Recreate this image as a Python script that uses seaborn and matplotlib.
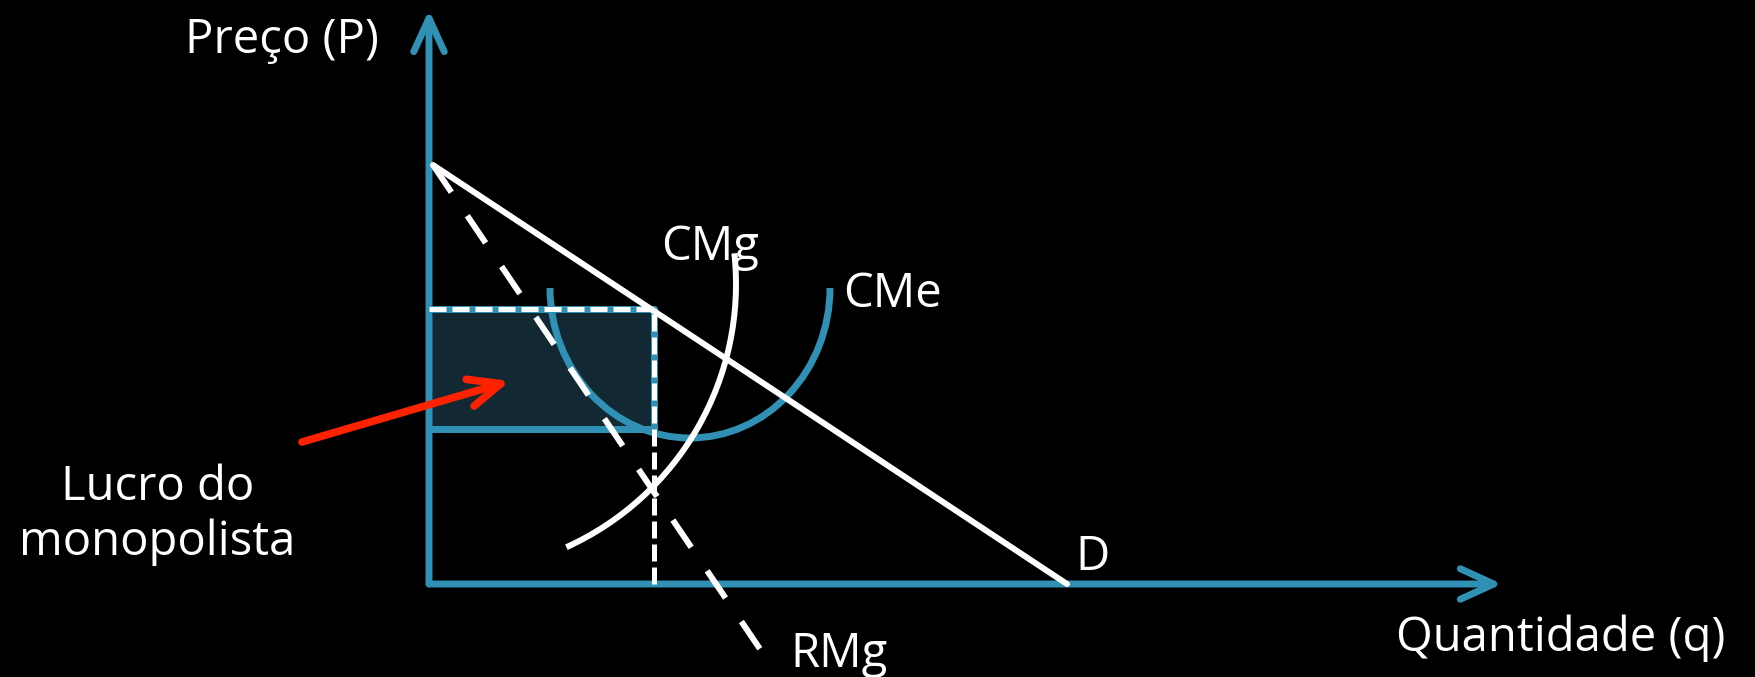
import matplotlib.pyplot as plt
import matplotlib.patches as mpatches
import seaborn as sns

# diagram coordinates: quantity q (horizontal) and price P (vertical), origin at the axes corner
q_axis_end = 107.3
p_axis_end = 57.4

# demand (D) and marginal revenue (RMg) end points
demand_q = [0.4, 63.8]
demand_p = [41.9, 0.0]
rmg_q = [0.4, 33.3]
rmg_p = [41.9, -6.8]

# monopoly quantity, price and average cost at that quantity
q_monopoly = 22.5
p_monopoly = 27.5
cme_at_qm = 15.5

# CMe: U shaped half ellipse (centre, width, height)
cme_center = (26.1, 29.6)
cme_size = (28.0, 30.0)

# CMg: circular arc (centre, radius, start / end angle in degrees)
cmg_center = (1.8, 30.0)
cmg_radius = 28.9
cmg_angles = (-65.6, 6.1)

# red arrow pointing at the profit area
arrow_q = [-12.7, 8.1]
arrow_p = [14.2, 20.3]

blue = '#3191b4'
fill = '#122832'
red = '#ff2200'

sns.set_style('dark', {'axes.facecolor': 'black', 'figure.facecolor': 'black'})
plt.rcParams['font.family'] = ['Open Sans', 'DejaVu Sans']

fig = plt.figure(figsize=(17.55, 6.77), dpi=100)
ax = fig.add_axes([0, 0, 1, 1])
ax.set_xlim(-42.9, 132.6)
ax.set_ylim(-9.3, 58.4)
ax.axis('off')

# profit rectangle
ax.fill_between([0, q_monopoly], cme_at_qm, p_monopoly, color=fill, lw=0, zorder=1)
ax.plot([0, q_monopoly], [p_monopoly, p_monopoly], color=blue, lw=5, zorder=2)
ax.plot([0, q_monopoly], [cme_at_qm, cme_at_qm], color=blue, lw=5, zorder=2, solid_capstyle='butt')
ax.plot([q_monopoly, q_monopoly], [cme_at_qm, p_monopoly], color=blue, lw=5, zorder=2)

# axes with open arrow heads
for end in [(0, p_axis_end), (q_axis_end, 0)]:
    arr = mpatches.FancyArrowPatch((0, 0), end, arrowstyle='->,head_length=24,head_width=11',
                                   mutation_scale=1, color=blue, lw=5, shrinkA=0, shrinkB=0,
                                   capstyle='round', joinstyle='round', zorder=2)
    ax.add_patch(arr)

# CMe
ax.add_patch(mpatches.Arc(cme_center, cme_size[0], cme_size[1], theta1=180, theta2=360,
                          color=blue, lw=5, zorder=3))

# CMg
ax.add_patch(mpatches.Arc(cmg_center, 2 * cmg_radius, 2 * cmg_radius,
                          theta1=cmg_angles[0], theta2=cmg_angles[1],
                          color='white', lw=4.3, zorder=4))

# demand
sns.lineplot(x=demand_q, y=demand_p, ax=ax, color='white', lw=4.3, zorder=4)

# marginal revenue (dashed)
sns.lineplot(x=rmg_q, y=rmg_p, ax=ax, color='white', lw=4.3, zorder=4)
ax.lines[-1].set_dashes([5.5, 4.75])
ax.lines[-1].set_dash_capstyle('butt')

# dashed guides at the monopoly price and quantity
guide_top, = ax.plot([0, q_monopoly], [p_monopoly, p_monopoly], color='white', lw=3.6, zorder=4)
guide_top.set_dashes([3.4, 1.2])
guide_v, = ax.plot([q_monopoly, q_monopoly], [0, p_monopoly], color='white', lw=3.6, zorder=4)
guide_v.set_dashes([3.4, 1.2])

# red arrow
ax.add_patch(mpatches.FancyArrowPatch((arrow_q[0], arrow_p[0]), (arrow_q[1], arrow_p[1]),
                                      arrowstyle='->,head_length=23,head_width=10',
                                      mutation_scale=1, color=red, lw=5.5, shrinkA=0, shrinkB=0,
                                      capstyle='round', joinstyle='round', zorder=5))

# labels
txt = dict(color='white', fontsize=34, va='baseline', ha='center')
ax.text(-14.75, 53.1, 'Preço (P)', **txt)
ax.text(113.2, -6.7, 'Quantidade (q)', **txt)
ax.text(28.1, 32.4, 'CMg', **txt)
ax.text(46.4, 27.7, 'CMe', **txt)
ax.text(66.3, 1.4, 'D', **txt)
ax.text(41.0, -8.3, 'RMg', **txt)
ax.text(-27.15, 8.4, 'Lucro do', **txt)
ax.text(-27.15, 2.9, 'monopolista', **txt)

plt.savefig('out.png', dpi=100, facecolor='black')
